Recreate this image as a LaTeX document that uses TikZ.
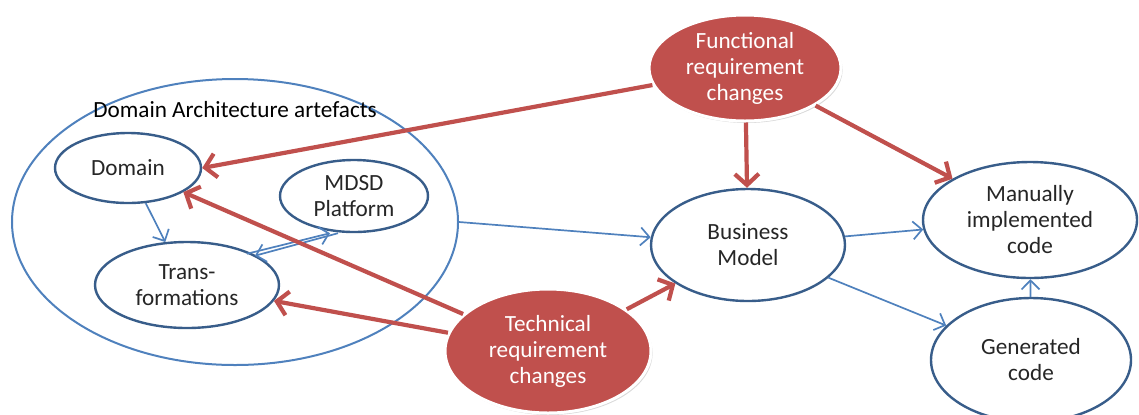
\documentclass[tikz,border=0pt]{standalone}
\usepackage{fontspec}
\setmainfont{Carlito}
\usepackage{xcolor}
\usetikzlibrary{arrows.meta,shadows,shapes.geometric}
\definecolor{ofred}{HTML}{C0504D}
\definecolor{ofblue}{HTML}{4F81BD}
\definecolor{ofdark}{HTML}{385D8A}
\tikzset{
	blueell/.style={ellipse, draw=ofdark, line width=1.2pt, fill=white,
			inner sep=0pt, align=center, text=black!85},
	redell/.style={ellipse, draw=white, line width=1.5pt, fill=ofred,
			inner sep=0pt, align=center, text=white,
			drop shadow={opacity=0.3, shadow xshift=0.8pt, shadow yshift=-1pt}},
	bluearr/.style={draw=ofblue, line width=0.85pt,
			-{Straight Barb[length=4.5pt,width=9pt]}},
	redarr/.style={draw=ofred, line width=2.1pt,
			-{Straight Barb[length=5.5pt,width=12pt]}}
}

\begin{document}
\begin{tikzpicture}[x=0.5pt, y=-0.5pt, font=\fontsize{11.6}{13}\selectfont]
        \useasboundingbox (0,0) rectangle (1139,414);

        % Artefacts of the domain architecture
        \node[ellipse, draw=ofblue, line width=1pt, minimum width=223pt, minimum height=143pt] (artefacts) at (235,222) {};
        \node (artlabel) at (235,110) {Domain Architecture artefacts};
        \node[blueell, minimum width=73pt, minimum height=35pt] (domain) at (128,168) {Domain};
        \node[blueell, minimum width=74pt, minimum height=36pt] (mdsd) at (354,196) {MDSD\\Platform};
        \node[blueell, minimum width=92pt, minimum height=43pt] (trans) at (187,285) {Trans-\\formations};

        % Generation side
        \node[blueell, minimum width=97pt, minimum height=56pt] (business) at (748,245) {Business\\Model};
        \node[blueell, minimum width=107pt, minimum height=58pt] (manual) at (1030,220) {Manually\\implemented\\code};
        \node[blueell, minimum width=100pt, minimum height=62pt] (generated) at (1031,360) {Generated\\code};

        % Requirement changes
        \node[redell, minimum width=96pt, minimum height=53pt] (functional) at (745,68) {Functional\\requirement\\changes};
        \node[redell, minimum width=103pt, minimum height=62pt] (technical) at (548,351) {Technical\\requirement\\changes};

        % Blue connectors
        \draw[bluearr] (domain) -- (trans);
        \draw[bluearr] ([xshift=-3pt]trans.north east) -- ([xshift=-12pt]mdsd.south);
        \draw[bluearr] ([xshift=-8pt]mdsd.south) -- ([xshift=1pt,yshift=-1pt]trans.north east);
        \draw[bluearr] (artefacts.east) -- (business);
        \draw[bluearr] (business) -- (manual);
        \draw[bluearr] (business) -- (generated);
        \draw[bluearr] (generated) -- (manual);

        % Red connectors
        \draw[redarr] (functional) -- (domain.east);
        \draw[redarr] (functional) -- (business);
        \draw[redarr] (functional) -- (manual);
        \draw[redarr] (technical) -- (domain);
        \draw[redarr] (technical) -- (trans);
        \draw[redarr] (technical) -- (business);
    \end{tikzpicture}
\end{document}
